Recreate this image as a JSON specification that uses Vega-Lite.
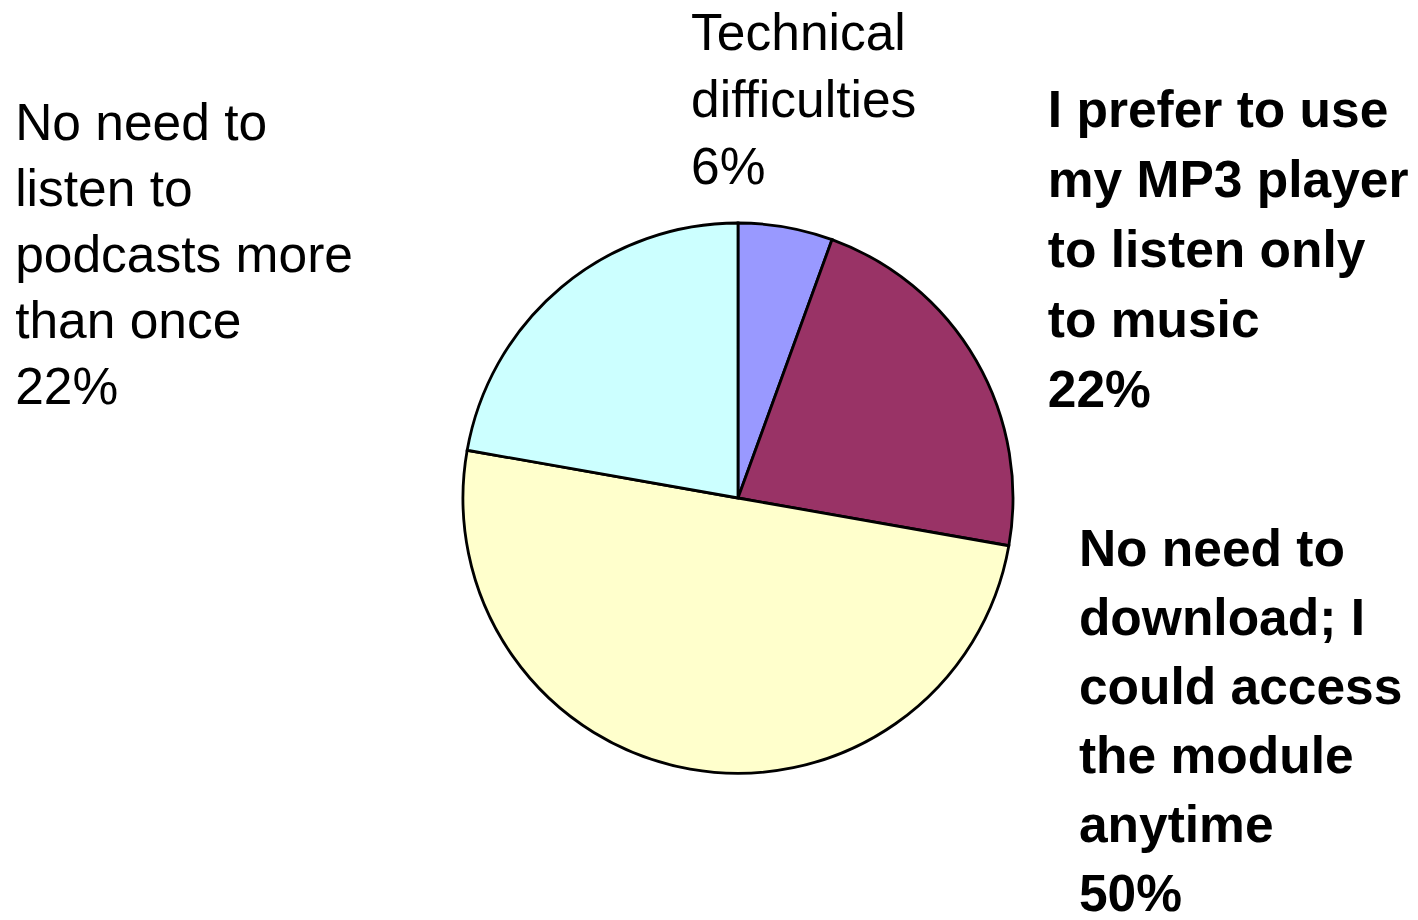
{
  "$schema": "https://vega.github.io/schema/vega-lite/v6.json",
  "width": 560,
  "height": 560,
  "autosize": "none",
  "padding": {"left": 458, "top": 218, "right": 400, "bottom": 142},
  "background": "white",
  "config": {"view": {"stroke": null}},
  "data": {
    "values": [
      {"category": "Technical difficulties", "count": 1, "rank": 1, "label": "Technical\ndifficulties\n6%"},
      {"category": "I prefer to use my MP3 player to listen only to music", "count": 4, "rank": 2, "label": "I prefer to use\nmy MP3 player\nto listen only\nto music\n22%"},
      {"category": "No need to download; I could access the module anytime", "count": 9, "rank": 3, "label": "No need to\ndownload; I\ncould access\nthe module\nanytime\n50%"},
      {"category": "No need to listen to podcasts more than once", "count": 4, "rank": 4, "label": "No need to\nlisten to\npodcasts more\nthan once\n22%"}
    ]
  },
  "encoding": {
    "theta": {"field": "count", "type": "quantitative", "stack": true},
    "order": {"field": "rank", "type": "quantitative"}
  },
  "layer": [
    {
      "mark": {"type": "arc", "radius": 275, "stroke": "black", "strokeWidth": 2.8},
      "encoding": {
        "color": {
          "field": "category",
          "type": "nominal",
          "scale": {
            "domain": [
              "Technical difficulties",
              "I prefer to use my MP3 player to listen only to music",
              "No need to download; I could access the module anytime",
              "No need to listen to podcasts more than once"
            ],
            "range": ["#9999FF", "#993366", "#FFFFCC", "#CCFFFF"]
          },
          "legend": null
        }
      }
    },
    {
      "mark": {"type": "text", "radius": 300, "align": "left", "baseline": "alphabetic", "dx": -99, "dy": -153, "font": "Liberation Sans", "fontSize": 51.5, "lineHeight": 67, "lineBreak": "\n", "color": "black"},
      "encoding": {
        "detail": {"field": "category", "type": "nominal"},
        "text": {"field": "label", "type": "nominal", "condition": {"test": "datum.rank !== 1", "value": ""}}
      }
    },
    {
      "mark": {"type": "text", "radius": 300, "align": "left", "baseline": "alphabetic", "dx": 50, "dy": -221, "font": "Liberation Sans", "fontSize": 51.5, "fontWeight": "bold", "lineHeight": 70, "lineBreak": "\n", "color": "black"},
      "encoding": {
        "detail": {"field": "category", "type": "nominal"},
        "text": {"field": "label", "type": "nominal", "condition": {"test": "datum.rank !== 2", "value": ""}}
      }
    },
    {
      "mark": {"type": "text", "radius": 300, "align": "left", "baseline": "alphabetic", "dx": 393, "dy": -227, "font": "Liberation Sans", "fontSize": 51.5, "fontWeight": "bold", "lineHeight": 69, "lineBreak": "\n", "color": "black"},
      "encoding": {
        "detail": {"field": "category", "type": "nominal"},
        "text": {"field": "label", "type": "nominal", "condition": {"test": "datum.rank !== 3", "value": ""}}
      }
    },
    {
      "mark": {"type": "text", "radius": 300, "align": "left", "baseline": "alphabetic", "dx": -530, "dy": -128, "font": "Liberation Sans", "fontSize": 51.5, "lineHeight": 66, "lineBreak": "\n", "color": "black"},
      "encoding": {
        "detail": {"field": "category", "type": "nominal"},
        "text": {"field": "label", "type": "nominal", "condition": {"test": "datum.rank !== 4", "value": ""}}
      }
    }
  ]
}
